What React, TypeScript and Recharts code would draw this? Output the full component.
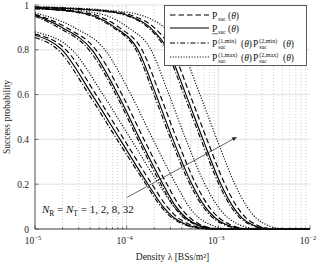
import React from "react";
import { LineChart, Line, XAxis, YAxis, CartesianGrid, ReferenceLine, ReferenceDot, Legend } from "recharts";

// ---- axis ticks ----
const X_MAJOR = [1e-5, 1e-4, 1e-3, 1e-2];
const X_MINOR = [
  2e-5, 3e-5, 4e-5, 5e-5, 6e-5, 7e-5, 8e-5, 9e-5,
  2e-4, 3e-4, 4e-4, 5e-4, 6e-4, 7e-4, 8e-4, 9e-4,
  2e-3, 3e-3, 4e-3, 5e-3, 6e-3, 7e-3, 8e-3, 9e-3,
];
const X_TICKS = [...X_MAJOR, ...X_MINOR].sort((a, b) => a - b);
const Y_TICKS = [0, 0.2, 0.4, 0.6, 0.8, 1];

// ---- probability levels at which the curves were read ----
const LEVELS_N1 = [0.8, 0.6, 0.4, 0.2, 0.1, 0.05, 0.02, 0.005, 0];
const LEVELS_N2 = [0.9, 0.8, 0.6, 0.4, 0.2, 0.1, 0.05, 0.02, 0.005, 0];
const LEVELS_N8_32 = [0.97, 0.95, 0.9, 0.8, 0.6, 0.4, 0.2, 0.1, 0.05, 0.02, 0.005, 0];

// start values at lambda = 1e-5 : [exact, lower, min-product, max-product]
const n1Start = [0.87, 0.865, 0.855, 0.88];
const n2Start = [0.958, 0.955, 0.95, 0.965];
const n8Start = [0.987, 0.985, 0.983, 0.99];
const n32Start = [0.991, 0.99, 0.989, 0.993];

// densities (BSs/m^2) where each curve crosses the levels
const n1Exact = [2.178e-5, 4.627e-5, 9.344e-5, 1.887e-4, 2.751e-4, 3.626e-4, 4.902e-4, 6.461e-4, 8.514e-4];
const n1Lower = [1.97e-5, 4.184e-5, 8.45e-5, 1.707e-4, 2.488e-4, 3.279e-4, 4.433e-4, 5.992e-4, 8.098e-4];
const n1Min = [1.782e-5, 3.88e-5, 7.838e-5, 1.623e-4, 2.366e-4, 3.119e-4, 4.215e-4, 5.699e-4, 7.701e-4];
const n1Max = [2.532e-5, 5.514e-5, 1.114e-4, 2.25e-4, 3.279e-4, 4.323e-4, 5.844e-4, 7.701e-4, 1.041e-3];

const n2Exact = [2.178e-5, 4.627e-5, 8.888e-5, 1.544e-4, 2.751e-4, 3.813e-4, 4.902e-4, 6.301e-4, 8.098e-4, 1.041e-3];
const n2Lower = [1.97e-5, 4.184e-5, 8.037e-5, 1.396e-4, 2.488e-4, 3.448e-4, 4.433e-4, 5.844e-4, 7.511e-4, 9.899e-4];
const n2Min = [1.782e-5, 3.88e-5, 7.644e-5, 1.328e-4, 2.366e-4, 3.279e-4, 4.215e-4, 5.557e-4, 7.143e-4, 9.414e-4];
const n2Max = [2.663e-5, 5.799e-5, 1.114e-4, 1.936e-4, 3.448e-4, 4.781e-4, 6.145e-4, 8.098e-4, 1.041e-3, 1.338e-3];

const n8Exact = [3.019e-5, 4.988e-5, 8.241e-5, 1.469e-4, 2.307e-4, 3.536e-4, 5.699e-4, 7.897e-4, 1.015e-3, 1.338e-3, 1.72e-3, 2.325e-3];
const n8Lower = [2.731e-5, 4.512e-5, 7.455e-5, 1.328e-4, 2.087e-4, 3.198e-4, 5.154e-4, 7.143e-4, 9.181e-4, 1.211e-3, 1.595e-3, 2.211e-3];
const n8Min = [2.532e-5, 4.184e-5, 7.089e-5, 1.263e-4, 1.985e-4, 3.041e-4, 4.902e-4, 6.793e-4, 8.731e-4, 1.151e-3, 1.517e-3, 2.103e-3];
const n8Max = [3.784e-5, 6.254e-5, 1.033e-4, 1.841e-4, 2.893e-4, 4.433e-4, 7.143e-4, 9.899e-4, 1.273e-3, 1.677e-3, 2.211e-3, 2.988e-3];

const n32Exact = [7.269e-5, 1.201e-4, 1.985e-4, 3.119e-4, 4.902e-4, 7.511e-4, 1.18e-3, 1.595e-3, 2.0e-3, 2.57e-3, 3.224e-3, 4.355e-3];
const n32Lower = [6.575e-5, 1.086e-4, 1.795e-4, 2.821e-4, 4.433e-4, 6.793e-4, 1.067e-3, 1.443e-3, 1.808e-3, 2.325e-3, 2.988e-3, 4.142e-3];
const n32Min = [6.254e-5, 1.033e-4, 1.707e-4, 2.683e-4, 4.215e-4, 6.461e-4, 1.015e-3, 1.372e-3, 1.72e-3, 2.211e-3, 2.842e-3, 3.939e-3];
const n32Max = [8.888e-5, 1.544e-4, 2.551e-4, 4.009e-4, 6.301e-4, 9.654e-4, 1.517e-3, 2.051e-3, 2.57e-3, 3.305e-3, 4.247e-3, 6.036e-3];

const X_MIN = 1e-5;
const X_MAX = 1e-2;

// arrow annotation (data coordinates)
const ARROW = [
  { x: 1.01e-4, y: 0.141 },
  { x: 1.6e-3, y: 0.411 },
];
const LABEL_POS = { x: 1.19e-5, y: 0.071 };

const FONT = "'Liberation Serif', 'DejaVu Serif', serif";

const DASH: Record<string, string | undefined> = {
  exact: "5.5 3",
  lower: undefined,
  min: "5 2 1.2 2",
  max: "1.1 1.6",
};

function build(start: number, lambdas: number[], levels: number[]) {
  const pts = [{ x: X_MIN, y: start }];
  lambdas.forEach((l, i) => pts.push({ x: l, y: levels[i] }));
  pts.push({ x: X_MAX, y: 0 });
  return pts;
}

const SERIES = [
  { key: "n1e", kind: "exact", data: build(n1Start[0], n1Exact, LEVELS_N1) },
  { key: "n1l", kind: "lower", data: build(n1Start[1], n1Lower, LEVELS_N1) },
  { key: "n1m", kind: "min", data: build(n1Start[2], n1Min, LEVELS_N1) },
  { key: "n1x", kind: "max", data: build(n1Start[3], n1Max, LEVELS_N1) },
  { key: "n2e", kind: "exact", data: build(n2Start[0], n2Exact, LEVELS_N2) },
  { key: "n2l", kind: "lower", data: build(n2Start[1], n2Lower, LEVELS_N2) },
  { key: "n2m", kind: "min", data: build(n2Start[2], n2Min, LEVELS_N2) },
  { key: "n2x", kind: "max", data: build(n2Start[3], n2Max, LEVELS_N2) },
  { key: "n8e", kind: "exact", data: build(n8Start[0], n8Exact, LEVELS_N8_32) },
  { key: "n8l", kind: "lower", data: build(n8Start[1], n8Lower, LEVELS_N8_32) },
  { key: "n8m", kind: "min", data: build(n8Start[2], n8Min, LEVELS_N8_32) },
  { key: "n8x", kind: "max", data: build(n8Start[3], n8Max, LEVELS_N8_32) },
  { key: "n32e", kind: "exact", data: build(n32Start[0], n32Exact, LEVELS_N8_32) },
  { key: "n32l", kind: "lower", data: build(n32Start[1], n32Lower, LEVELS_N8_32) },
  { key: "n32m", kind: "min", data: build(n32Start[2], n32Min, LEVELS_N8_32) },
  { key: "n32x", kind: "max", data: build(n32Start[3], n32Max, LEVELS_N8_32) },
];

const isMajor = (v: number) => Math.abs(Math.log10(v) - Math.round(Math.log10(v))) < 1e-6;

const BottomTick = (props: any) => {
  const { x, y, payload } = props;
  const v = payload.value;
  const major = isMajor(v);
  const exp = Math.round(Math.log10(v));
  return (
    <g>
      <line x1={x} y1={y} x2={x} y2={y - (major ? 3.5 : 2)} stroke="#222" strokeWidth={0.6} />
      {major && (
        <text x={x - 2} y={y + 15} textAnchor="middle" fontFamily={FONT} fontSize={9.5} fill="#222">
          10
          <tspan dy={-4} fontSize={6.5}>{"\u2212" + Math.abs(exp)}</tspan>
        </text>
      )}
    </g>
  );
};

const TopTick = (props: any) => {
  const { x, y, payload } = props;
  const major = isMajor(payload.value);
  return <line x1={x} y1={y} x2={x} y2={y + (major ? 3.5 : 2)} stroke="#222" strokeWidth={0.6} />;
};

const LeftTick = (props: any) => {
  const { x, y, payload } = props;
  return (
    <g>
      <line x1={x} y1={y} x2={x + 3.5} y2={y} stroke="#222" strokeWidth={0.6} />
      <text x={x - 6} y={y + 3.5} textAnchor="end" fontFamily={FONT} fontSize={9.5} fill="#222">
        {String(payload.value)}
      </text>
    </g>
  );
};

const RightTick = (props: any) => {
  const { x, y } = props;
  return <line x1={x} y1={y} x2={x - 3.5} y2={y} stroke="#222" strokeWidth={0.6} />;
};

const YLabel = (props: any) => {
  const vb = props.viewBox || {};
  const cy = (vb.y || 5) + (vb.height || 224) / 2;
  const cx = 10;
  return (
    <text
      x={cx}
      y={cy}
      transform={`rotate(-90, ${cx}, ${cy})`}
      textAnchor="middle"
      fontFamily={FONT}
      fontSize={9.5}
      fill="#222"
    >
      Success probability
    </text>
  );
};

const ArrowShape = (props: any) => {
  const { x1, y1, x2, y2 } = props;
  if ([x1, y1, x2, y2].some((v) => typeof v !== "number" || isNaN(v))) return null;
  const ang = Math.atan2(y2 - y1, x2 - x1);
  const L = 5;
  const W = 2;
  const bx = x2 - L * Math.cos(ang);
  const by = y2 - L * Math.sin(ang);
  const px = -Math.sin(ang) * W;
  const py = Math.cos(ang) * W;
  return (
    <g>
      <line x1={x1} y1={y1} x2={bx} y2={by} stroke="#222" strokeWidth={0.7} />
      <polygon points={`${x2},${y2} ${bx + px},${by + py} ${bx - px},${by - py}`} fill="#222" />
    </g>
  );
};

const LabelShape = (props: any) => {
  const { cx, cy } = props;
  return (
    <text x={cx} y={cy} fontFamily={FONT} fontSize={11} fill="#111">
      <tspan fontStyle="italic">N</tspan>
      <tspan dy={2.5} fontSize={7.5}>R</tspan>
      <tspan dy={-2.5}>{" = "}</tspan>
      <tspan fontStyle="italic">N</tspan>
      <tspan dy={2.5} fontSize={7.5}>T</tspan>
      <tspan dy={-2.5}>{" = 1, 2, 8, 32"}</tspan>
    </text>
  );
};

const PSuc = ({ x, y, under, sup }: { x: number; y: number; under?: boolean; sup?: string }) => (
  <g>
    <text x={x} y={y} fontFamily={FONT} fontSize={9.5} fill="#111">P</text>
    {under && <line x1={x} y1={y + 1.8} x2={x + 6} y2={y + 1.8} stroke="#111" strokeWidth={0.6} />}
    <text x={x + 6.3} y={y + 2.3} fontFamily={FONT} fontSize={5.5} fill="#111">suc</text>
    {sup && (
      <text x={x + 6.3} y={y - 4} fontFamily={FONT} fontSize={6} fill="#111">{sup}</text>
    )}
  </g>
);

const Theta = ({ x, y }: { x: number; y: number }) => (
  <text x={x} y={y} fontFamily={FONT} fontSize={9.5} fill="#111">
    (<tspan fontStyle="italic">θ</tspan>)
  </text>
);

const LegendBox = () => {
  const rows = [
    { dash: DASH.exact, y: 10 },
    { dash: DASH.lower, y: 23 },
    { dash: DASH.min, y: 38 },
    { dash: DASH.max, y: 52 },
  ];
  return (
    <svg width={143} height={61} style={{ display: "block" }}>
      <rect x={0.5} y={0.5} width={142} height={60} fill="#fff" stroke="#333" strokeWidth={0.8} />
      {rows.map((r, i) => (
        <line key={i} x1={6} y1={r.y} x2={45} y2={r.y} stroke="#000" strokeWidth={1.2} strokeDasharray={r.dash} />
      ))}
      <PSuc x={48} y={14} />
      <Theta x={64} y={14} />
      <PSuc x={48} y={27} under />
      <Theta x={64} y={27} />
      <PSuc x={48} y={42} sup="(1,min)" />
      <Theta x={77} y={42} />
      <PSuc x={89} y={42} sup="(2,min)" />
      <Theta x={119} y={42} />
      <PSuc x={48} y={56} sup="(1,max)" />
      <Theta x={77} y={56} />
      <PSuc x={89} y={56} sup="(2,max)" />
      <Theta x={119} y={56} />
    </svg>
  );
};

export default function App() {
  return (
    <div style={{ position: "absolute", left: 0, top: 0, width: 319, height: 262, background: "#fff" }}>
      <LineChart width={319} height={262} margin={{ top: 5, right: 9, bottom: 0, left: 0 }}>
        <CartesianGrid vertical={false} stroke="#e2e2e2" strokeWidth={1} />
        {X_MINOR.map((v) => (
          <ReferenceLine key={"m" + v} x={v} stroke="#b8b8b8" strokeWidth={0.7} strokeDasharray="1 2" />
        ))}
        {X_MAJOR.slice(1, 3).map((v) => (
          <ReferenceLine key={"M" + v} x={v} stroke="#e2e2e2" strokeWidth={1} />
        ))}
        <XAxis
          dataKey="x"
          type="number"
          scale="log"
          domain={[X_MIN, X_MAX]}
          allowDataOverflow
          ticks={X_TICKS}
          interval={0}
          tickSize={0}
          tickMargin={0}
          tick={<BottomTick />}
          height={33}
          axisLine={{ stroke: "#222", strokeWidth: 0.8 }}
          tickLine={false}
          label={{ value: "Density λ [BSs/m²]", position: "insideBottom", offset: 2, fontFamily: FONT, fontSize: 9.5, fill: "#222" }}
        />
        <XAxis
          xAxisId="top"
          orientation="top"
          type="number"
          scale="log"
          domain={[X_MIN, X_MAX]}
          allowDataOverflow
          ticks={X_TICKS}
          interval={0}
          tickSize={0}
          tickMargin={0}
          tick={<TopTick />}
          height={0}
          axisLine={{ stroke: "#222", strokeWidth: 0.8 }}
          tickLine={false}
        />
        <YAxis
          type="number"
          domain={[0, 1]}
          ticks={Y_TICKS}
          interval={0}
          tickSize={0}
          tickMargin={0}
          tick={<LeftTick />}
          width={35}
          axisLine={{ stroke: "#222", strokeWidth: 0.8 }}
          tickLine={false}
          label={<YLabel />}
        />
        <YAxis
          yAxisId="right"
          orientation="right"
          type="number"
          domain={[0, 1]}
          ticks={Y_TICKS}
          interval={0}
          tickSize={0}
          tickMargin={0}
          tick={<RightTick />}
          width={0}
          axisLine={{ stroke: "#222", strokeWidth: 0.8 }}
          tickLine={false}
        />
        {SERIES.map((s) => (
          <Line
            key={s.key}
            data={s.data}
            dataKey="y"
            type="monotone"
            stroke="#000"
            strokeWidth={1.15}
            strokeDasharray={DASH[s.kind]}
            dot={false}
            activeDot={false}
            isAnimationActive={false}
          />
        ))}
        <ReferenceLine segment={ARROW} stroke="#222" shape={(p: any) => <ArrowShape {...p} />} />
        <ReferenceDot x={LABEL_POS.x} y={LABEL_POS.y} r={0} shape={(p: any) => <LabelShape {...p} />} />
        <Legend
          layout="vertical"
          align="center"
          verticalAlign="middle"
          content={() => <LegendBox />}
          wrapperStyle={{ position: "absolute", left: 164, top: 5, width: 143, height: 61 }}
        />
      </LineChart>
    </div>
  );
}
